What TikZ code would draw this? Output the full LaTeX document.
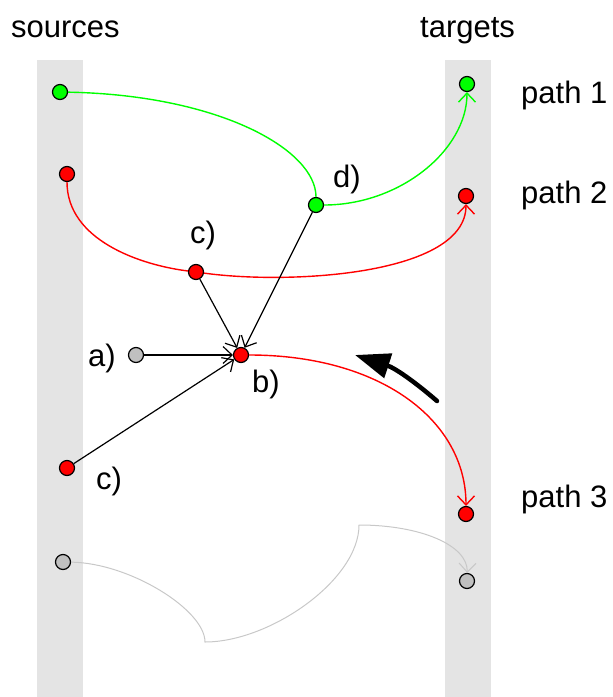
\documentclass[tikz,border=0pt]{standalone}
\usepackage{fontspec}
\setmainfont{Liberation Sans}
\usetikzlibrary{arrows.meta}
\definecolor{bandgray}{RGB}{228,228,228}
\definecolor{dotgreen}{RGB}{0,255,0}
\definecolor{dotred}{RGB}{255,0,0}
\definecolor{dotgray}{RGB}{192,192,192}
\definecolor{pathgray}{RGB}{200,200,200}
\begin{document}
\begin{tikzpicture}[x=1pt,y=-1pt,
  dot/.style={circle,draw=black,line width=1.2pt,minimum size=15pt,inner sep=0pt},
  lbl/.style={anchor=base west,inner sep=0pt,font=\fontsize{31}{31}\selectfont},
  barb/.style={-{Straight Barb[length=9pt,width=17pt]}},
  route/.style={line width=1.4pt,barb},
  link/.style={draw=black,line width=1.2pt,barb}
]
\useasboundingbox (0,0) rectangle (613,697);

% source and target columns
\fill[bandgray] (37,60) rectangle (83,697);
\fill[bandgray] (445,60) rectangle (491,697);

% column and path labels
\node[lbl] at (11,37) {sources};
\node[lbl] at (420,37) {targets};
\node[lbl] at (521,103) {path 1};
\node[lbl] at (521,203) {path 2};
\node[lbl] at (521,507) {path 3};
\node[lbl] at (88,366) {a)};
\node[lbl] at (252,392) {b)};
\node[lbl] at (190,243) {c)};
\node[lbl] at (96,489) {c)};
\node[lbl] at (333,187) {d)};

% points
\node[dot,fill=dotgreen] (s1) at (60,92) {};
\node[dot,fill=dotgreen] (t1) at (467,84) {};
\node[dot,fill=dotred]   (s2) at (67,174) {};
\node[dot,fill=dotred]   (t2) at (466,196) {};
\node[dot,fill=dotred]   (c1) at (196,272) {};
\node[dot,fill=dotgreen] (d)  at (316,205) {};
\node[dot,fill=dotgray]  (a)  at (136,355) {};
\node[dot,fill=dotred]   (b)  at (241,355) {};
\node[dot,fill=dotred]   (c2) at (67,468) {};
\node[dot,fill=dotred]   (t3) at (466,514) {};
\node[dot,fill=dotgray]  (s4) at (63,562) {};
\node[dot,fill=dotgray]  (t4) at (467,581) {};

% path 1
\draw[route,draw=dotgreen] (s1) .. controls (220,95) and (316,150) .. (d)
  .. controls (400,205) and (467,150) .. (t1);
% path 2
\draw[route,draw=dotred] (s2) .. controls (67,240) and (140,265) .. (c1)
  .. controls (290,285) and (466,275) .. (t2);
% path 3
\draw[route,draw=dotred] (b) .. controls (380,355) and (466,420) .. (t3);

% broken gray route
\coordinate (k1) at (205,642);
\coordinate (k2) at (359,525);
\draw[pathgray,line width=1pt,barb] (s4) .. controls (130,563) and (205,610) .. (k1)
  .. controls (270,642) and (359,580) .. (k2)
  .. controls (420,525) and (468,545) .. (t4);

% links into b
\draw[link] (a) -- (b);
\draw[link] (c1) -- (b);
\draw[link] (d) -- (b);
\draw[link] (c2) -- (b);

% bold curved arrow
\coordinate (m0) at (437,401);
\coordinate (m1) at (355,355);
\draw[line width=4.5pt,line cap=round,-{Triangle[length=35pt,width=25pt]}]
  (m0) .. controls (415,382) and (395,368) .. (m1);
\end{tikzpicture}
\end{document}
